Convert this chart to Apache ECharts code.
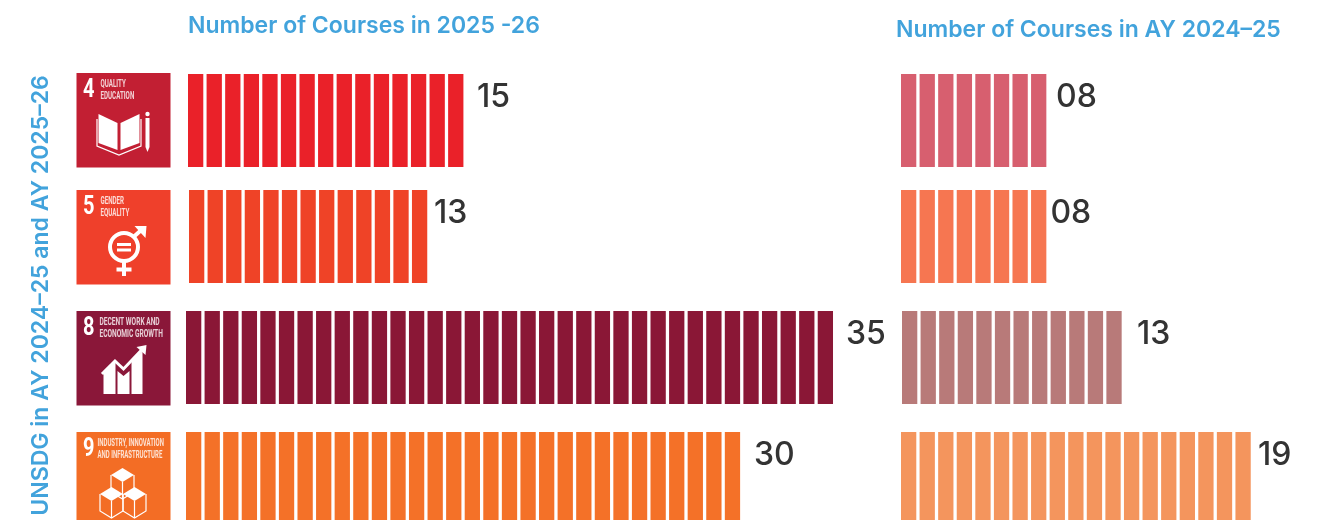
<!DOCTYPE html>
<html>
<head>
<meta charset="utf-8">
<title>UNSDG courses</title>
<script src="https://cdn.jsdelivr.net/npm/echarts@6/dist/echarts.min.js"></script>
<style>
  html, body { margin: 0; padding: 0; background: #fff; }
  #chart { width: 1317px; height: 520px; }
</style>
</head>
<body>
<div id="chart"></div>
<script>
// data
const goals = ['4', '5', '8', '9']
const goalLines = [
  ['QUALITY', 'EDUCATION'],
  ['GENDER', 'EQUALITY'],
  ['DECENT WORK AND', 'ECONOMIC GROWTH'],
  ['INDUSTRY, INNOVATION', 'AND INFRASTRUCTURE']
]
const courses2526 = [15, 13, 35, 30]
const labels2526 = ['15', '13', '35', '30']
// the 13 row only has 12 blocks drawn in the original
const blocks2425 = [8, 8, 12, 19]
const labels2425 = ['08', '08', '13', '19']

const titleNow = 'Number of Courses in 2025 -26'
const titlePrev = 'Number of Courses in AY 2024–25'
const titleSide = 'UNSDG in AY 2024–25 and AY 2025–26'

// colours
const tileColors = ['#c21f33', '#ef402b', '#8a1739', '#f36d25']
const nowColors = ['#ea2129', '#ef4327', '#8a1736', '#f47128']
const prevColors = ['#d75f6f', '#f67651', '#b87a79', '#f4955d']
const blue = '#42a3dc'
const dark = '#333333'
const textFont = 'Inter, "Noto Sans", sans-serif'
const tileFont = 'Roboto, sans-serif'

// small hand offsets, the rows in the picture are not evenly placed
const rowDy = [0, -3.5, -2, -0.5]
const tileDy = [-1, 0, 0, 0]
const nowDx = [1, 2, -1, -1]
const prevDx = [0, 0, 1, 0]
const nowLabelGap = [10.3, 3.5, 9.7, 10.6]
const prevLabelGap = [6.4, 0.8, 12, 4]
const tileTextX = [24, 24, 23, 21]
const tileTextScale = [0.62, 0.62, 0.66, 0.6]

// helpers for the icon shapes, coords are local to the tile
const W = '#ffffff'
const box = (x, y, width, height, fill) => ({ type: 'rect', shape: { x, y, width, height }, style: { fill: fill || W } })
const poly = (points, fill) => ({ type: 'polygon', shape: { points }, style: { fill: fill || W } })
const stroke = (points, lineWidth) => ({ type: 'polyline', shape: { points }, style: { fill: 'none', stroke: W, lineWidth: lineWidth || 1 } })

const cube = (cx, top) => {
  const hw = 11.5, hh = 7, h = 17
  return [
    poly([[cx, top], [cx + hw, top + hh], [cx, top + 2 * hh], [cx - hw, top + hh]]),
    stroke([[cx - hw, top + hh], [cx - hw, top + hh + h], [cx, top + 2 * hh + h], [cx + hw, top + hh + h], [cx + hw, top + hh]], 1.2),
    stroke([[cx, top + 2 * hh], [cx, top + 2 * hh + h]], 1.2)
  ]
}

const icons = [
  // book and pencil
  [
    poly([[22, 41], [41, 50], [41, 77], [22, 70]]),
    poly([[44, 50], [63, 41], [63, 70], [44, 77]]),
    stroke([[20.5, 46], [20.5, 73], [42.5, 82], [64.5, 73], [64.5, 46]], 1.2),
    { type: 'circle', shape: { cx: 71, cy: 41, r: 2.2 }, style: { fill: W } },
    poly([[69, 45], [73, 45], [73, 74], [71, 79], [69, 74]])
  ],
  // gender symbol
  [
    { type: 'circle', shape: { cx: 47.5, cy: 57, r: 14 }, style: { fill: 'none', stroke: W, lineWidth: 4 } },
    box(40.5, 53, 14, 3),
    box(40.5, 58.5, 14, 3),
    stroke([[57, 47], [67, 38]], 4),
    poly([[58, 36], [70, 36], [69, 48]]),
    box(45.5, 72, 4, 14),
    box(40, 77.5, 15, 4)
  ],
  // growth chart
  [
    poly([[27, 60], [33, 54], [39, 50], [39, 83], [27, 83]]),
    poly([[41, 60], [47, 65], [53, 60], [53, 83], [41, 83]]),
    poly([[55, 50], [66, 40], [66, 83], [55, 83]]),
    stroke([[25.5, 63], [38.5, 50], [47, 58], [66, 38]], 3),
    poly([[60, 36], [70, 34], [69, 44]])
  ],
  // three cubes
  [].concat(cube(46, 36), cube(35, 55), cube(58, 55))
]

const unit = 18.58

const renderTile = (params, api) => {
  const i = api.value(0)
  const y = api.coord([0, i])[1] + rowDy[i] - 46.5 + tileDy[i]
  const lines = goalLines[i].map((t, n) => ({
    type: 'text',
    x: tileTextX[i],
    y: 11.7 + n * 11.4,
    scaleX: tileTextScale[i],
    style: { text: t, fill: 'rgba(255,255,255,0.8)', font: 'bold 10px ' + tileFont, align: 'left', verticalAlign: 'middle' }
  }))
  return {
    type: 'group',
    x: 76.5,
    y: y,
    children: [
      box(0, 0, 94, 94.5, tileColors[i]),
      {
        type: 'text',
        x: 6.5,
        y: 17.5,
        scaleX: 0.8,
        style: { text: goals[i], fill: W, font: 'bold 25px ' + tileFont, align: 'left', verticalAlign: 'middle' }
      }
    ].concat(lines, icons[i])
  }
}

// one block per course, width comes off the axis scale
const renderBlocks = (colors, labels, dx, gap) => (params, api) => {
  const count = api.value(0)
  const row = api.value(1)
  const pitch = api.size([1, 0])[0]
  const children = []
  for (let n = 0; n < count; n++) {
    const p = api.coord([n, row])
    children.push({
      type: 'rect',
      shape: { x: p[0] + dx[row], y: p[1] + rowDy[row] - 46.5, width: pitch * 0.823, height: 93 },
      style: { fill: colors[row] }
    })
  }
  const end = api.coord([count, row])
  children.push({
    type: 'text',
    style: {
      text: labels[row],
      x: end[0] + dx[row] + gap[row],
      y: end[1] + rowDy[row] - 23,
      fill: dark,
      font: '500 32px ' + textFont,
      align: 'left',
      verticalAlign: 'middle'
    }
  })
  return { type: 'group', children }
}

const hiddenValue = (max, gridIndex) => ({ type: 'value', gridIndex, min: 0, max, show: false })
const hiddenRows = (gridIndex) => ({ type: 'category', gridIndex, data: goals, inverse: true, show: false })

const option = {
  animation: false,
  backgroundColor: '#ffffff',
  title: [
    { text: titleNow, left: 183, top: 10, textStyle: { color: blue, fontFamily: textFont, fontSize: 23, fontWeight: 600 } },
    { text: titlePrev, left: 891, top: 14, textStyle: { color: blue, fontFamily: textFont, fontSize: 23, fontWeight: 600 } }
  ],
  graphic: [
    {
      type: 'text',
      x: 41,
      y: 295.5,
      rotation: Math.PI / 2,
      style: { text: titleSide, fill: blue, font: '600 23px ' + textFont, align: 'center', verticalAlign: 'middle' }
    }
  ],
  // rows run past the bottom of the page like in the original
  grid: [
    { left: 187, top: 60.75, width: unit * 40, height: 478, outerBoundsMode: 'none' },
    { left: 901, top: 60.75, width: unit * 22, height: 478, outerBoundsMode: 'none' }
  ],
  xAxis: [hiddenValue(40, 0), hiddenValue(22, 1)],
  yAxis: [hiddenRows(0), hiddenRows(1)],
  series: [
    {
      type: 'custom',
      name: 'tiles',
      xAxisIndex: 0,
      yAxisIndex: 0,
      clip: false,
      silent: true,
      data: goals.map((g, i) => [i]),
      encode: { y: 0 },
      renderItem: renderTile
    },
    {
      type: 'custom',
      name: '2025-26',
      xAxisIndex: 0,
      yAxisIndex: 0,
      clip: false,
      data: courses2526.map((v, i) => [v, i]),
      encode: { x: 0, y: 1 },
      renderItem: renderBlocks(nowColors, labels2526, nowDx, nowLabelGap)
    },
    {
      type: 'custom',
      name: '2024-25',
      xAxisIndex: 1,
      yAxisIndex: 1,
      clip: false,
      data: blocks2425.map((v, i) => [v, i]),
      encode: { x: 0, y: 1 },
      renderItem: renderBlocks(prevColors, labels2425, prevDx, prevLabelGap)
    }
  ]
}

const chart = echarts.init(document.getElementById('chart'))
chart.setOption(option)
</script>
</body>
</html>
